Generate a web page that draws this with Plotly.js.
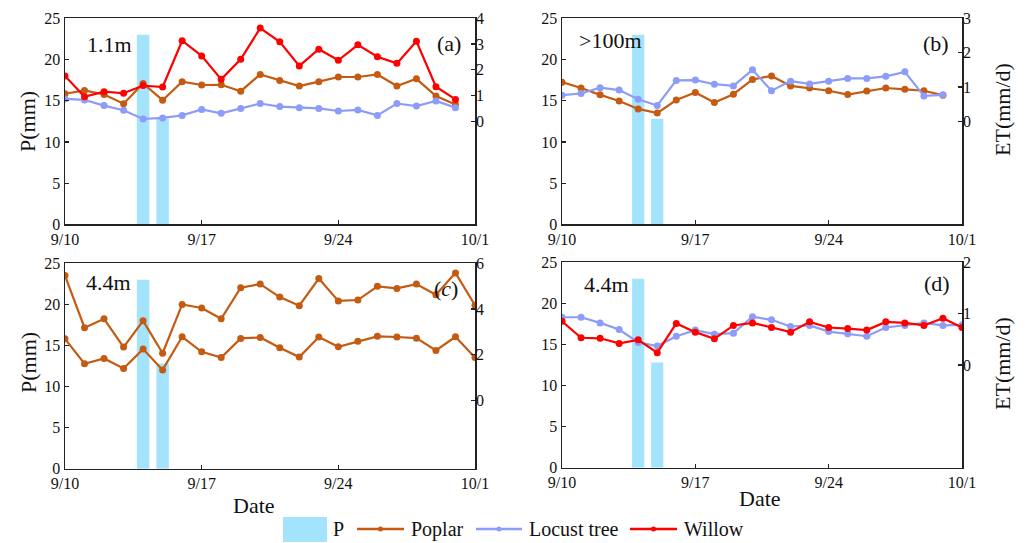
<!DOCTYPE html>
<html>
<head>
<meta charset="utf-8">
<script src="https://cdn.plot.ly/plotly-3.0.1.min.js"></script>
<style>html,body{margin:0;padding:0;background:#fff;}#chart{width:1034px;height:543px;}</style>
</head>
<body>
<div id="chart"></div>
<script>
// ---- data ----
const dates = ['2021-09-10','2021-09-11','2021-09-12','2021-09-13','2021-09-14','2021-09-15','2021-09-16',
  '2021-09-17','2021-09-18','2021-09-19','2021-09-20','2021-09-21','2021-09-22','2021-09-23','2021-09-24',
  '2021-09-25','2021-09-26','2021-09-27','2021-09-28','2021-09-29','2021-09-30','2021-10-01'];
const pDates = ['2021-09-14','2021-09-15'];
const pValues = [23.0, 12.8];

const aWillow = [1.76,0.95,1.15,1.09,1.39,1.33,3.13,2.54,1.63,2.41,3.62,3.09,2.15,2.80,2.37,2.97,2.51,2.25,3.11,1.34,0.85];
const aPoplar = [1.07,1.20,1.04,0.68,1.47,0.82,1.54,1.41,1.42,1.17,1.82,1.58,1.37,1.54,1.72,1.72,1.82,1.37,1.65,0.98,0.65];
const aLocust = [0.87,0.83,0.61,0.43,0.09,0.13,0.23,0.46,0.31,0.50,0.69,0.57,0.53,0.50,0.40,0.44,0.23,0.69,0.59,0.79,0.53];

const bPoplar = [1.14,0.97,0.77,0.59,0.36,0.24,0.62,0.84,0.55,0.79,1.22,1.32,1.03,0.97,0.89,0.78,0.88,0.97,0.93,0.89,0.76];
const bLocust = [0.76,0.81,0.98,0.91,0.64,0.46,1.19,1.20,1.08,1.03,1.50,0.89,1.17,1.09,1.17,1.25,1.25,1.31,1.44,0.74,0.77];

const cPoplarHigh = [5.46,3.18,3.57,2.33,3.48,2.06,4.20,4.04,3.57,4.93,5.09,4.52,4.14,5.33,4.35,4.39,4.99,4.90,5.09,4.62,5.58,4.16];
const cPoplarLow  = [2.69,1.60,1.83,1.39,2.24,1.33,2.78,2.12,1.87,2.71,2.75,2.30,1.89,2.77,2.34,2.58,2.80,2.77,2.72,2.18,2.78,1.87];

const dLocust = [0.93,0.93,0.82,0.69,0.44,0.37,0.56,0.68,0.60,0.62,0.94,0.88,0.75,0.77,0.65,0.61,0.56,0.73,0.77,0.82,0.77,0.78];
const dWillow = [0.85,0.53,0.52,0.42,0.49,0.24,0.81,0.64,0.51,0.77,0.82,0.73,0.64,0.84,0.73,0.71,0.68,0.84,0.82,0.77,0.91,0.73];

const xTickVals = ['2021-09-10','2021-09-17','2021-09-24','2021-10-01'];
const xTickText = ['9/10','9/17','9/24','10/1'];
const panelLabels = ['(a)','(b)','(<i>c</i>)','(d)'];
const siteLabels = ['1.1m','>100m','4.4m','4.4m'];
const legendNames = ['P','Poplar','Locust tree','Willow'];

// ---- styles ----
const C = {P:'#a3e4fc', poplar:'#c55a11', locust:'#8c9cf8', willow:'#ff0000'};
const FONT = '"Liberation Serif","Times New Roman",serif';
const W = 1034, H = 543;

function line(x, y, color, xa, ya, name) {
  return {type:'scatter', mode:'lines+markers', x:x, y:y, xaxis:xa, yaxis:ya, name:name, showlegend:false,
    line:{color:color, width:2.2}, marker:{color:color, size:7}};
}
function bars(xa, ya) {
  return {type:'bar', x:pDates, y:pValues, xaxis:xa, yaxis:ya, name:'P', showlegend:false,
    marker:{color:C.P, line:{width:0}}, width:0.64*86400000};
}

const traces = [
  bars('x','y'),
  line(dates.slice(0,21), aPoplar, C.poplar, 'x','y2','Poplar'),
  line(dates.slice(0,21), aLocust, C.locust, 'x','y2','Locust tree'),
  line(dates.slice(0,21), aWillow, C.willow, 'x','y2','Willow'),
  bars('x2','y3'),
  line(dates.slice(0,21), bPoplar, C.poplar, 'x2','y4','Poplar'),
  line(dates.slice(0,21), bLocust, C.locust, 'x2','y4','Locust tree'),
  bars('x3','y5'),
  line(dates, cPoplarHigh, C.poplar, 'x3','y6','Poplar'),
  line(dates, cPoplarLow, C.poplar, 'x3','y6','Poplar'),
  bars('x4','y7'),
  line(dates, dLocust, C.locust, 'x4','y8','Locust tree'),
  line(dates, dWillow, C.willow, 'x4','y8','Willow')
];

// panel pixel boxes [left, right, top, bottom]
const boxes = [[65,475,18.3,224.3],[562,962,18.3,224.3],[65,475,263.3,468.7],[562,962,262.3,467.7]];
const rightRanges = [[-4,4],[-3,3],[-3,6],[-2,2]];
const rightTicks = [[0,1,2,3,4],[0,1,2,3],[0,2,4,6],[0,1,2]];

const layout = {
  width:W, height:H, margin:{l:0,r:0,t:0,b:0}, showlegend:false,
  paper_bgcolor:'#fff', plot_bgcolor:'#fff', barmode:'overlay',
  font:{family:FONT, size:16, color:'#111'},
  annotations:[], shapes:[]
};

boxes.forEach((b,i) => {
  const n = i+1;
  const xk = n===1 ? 'xaxis' : 'xaxis'+n;
  const yl = 2*i+1, yr = 2*i+2;
  const ylk = yl===1 ? 'yaxis' : 'yaxis'+yl;
  const yrk = 'yaxis'+yr;
  const xName = n===1 ? 'x' : 'x'+n;
  const ylName = yl===1 ? 'y' : 'y'+yl;
  layout[xk] = {domain:[b[0]/W, b[1]/W], anchor:ylName, type:'date',
    range:['2021-09-10','2021-10-01'], tickvals:xTickVals, ticktext:xTickText,
    ticks:'inside', ticklen:4, tickwidth:1.2, tickcolor:'#222',
    showline:true, mirror:true, linecolor:'#222', linewidth:1.5, showgrid:false, zeroline:false,
    tickfont:{family:FONT, size:16, color:'#111'}, fixedrange:true};
  layout[ylk] = {domain:[1-b[3]/H, 1-b[2]/H], anchor:xName, range:[0,25], tickvals:[0,5,10,15,20,25],
    ticks:'inside', ticklen:4, tickwidth:1.2, tickcolor:'#222',
    showline:true, mirror:true, linecolor:'#222', linewidth:1.5, showgrid:false, zeroline:false,
    tickfont:{family:FONT, size:16, color:'#111'}, fixedrange:true};
  layout[yrk] = {overlaying:ylName, side:'right', anchor:xName, range:rightRanges[i], tickvals:rightTicks[i],
    ticks:'inside', ticklen:4, tickwidth:1.2, tickcolor:'#222',
    showline:false, showgrid:false, zeroline:false,
    tickfont:{family:FONT, size:16, color:'#111'}, fixedrange:true};
});

function ann(text, x, y, xanchor, yanchor, size, angle) {
  layout.annotations.push({text:text, x:x/W, y:1-y/H, xref:'paper', yref:'paper', xanchor:xanchor||'center',
    yanchor:yanchor||'middle', showarrow:false, textangle:angle||0, font:{family:FONT, size:size, color:'#111'}});
}
// site and panel labels
ann(siteLabels[0], 85, 44, 'left', 'middle', 22);
ann(panelLabels[0], 463, 43, 'right', 'middle', 22);
ann(siteLabels[1], 577, 40, 'left', 'middle', 22);
ann(panelLabels[1], 951, 43, 'right', 'middle', 22);
ann(siteLabels[2], 84, 282, 'left', 'middle', 22);
ann(panelLabels[2], 460, 288, 'right', 'middle', 22);
ann(siteLabels[3], 582, 284, 'left', 'middle', 22);
ann(panelLabels[3], 952, 283, 'right', 'middle', 22);
// axis titles
ann('P(mm)', 28, 122, 'center', 'middle', 22, -90);
ann('P(mm)', 28, 363, 'center', 'middle', 22, -90);
ann('ET(mm/d)', 1002, 110, 'center', 'middle', 22, -90);
ann('ET(mm/d)', 1002, 364, 'center', 'middle', 22, -90);
ann('Date', 254, 505, 'center', 'middle', 22);
ann('Date', 760, 498, 'center', 'middle', 22);

// custom legend
const LY = 529;
layout.shapes.push({type:'rect', xref:'paper', yref:'paper', x0:283/W, x1:327/W, y0:1-542/H, y1:1-517/H,
  fillcolor:C.P, line:{width:0}});
ann(legendNames[0], 331, LY, 'left', 'middle', 20);
const legLines = [[357,404,C.poplar,legendNames[1]],[476,522,C.locust,legendNames[2]],[630,677,C.willow,legendNames[3]]];
legLines.forEach(l => {
  layout.shapes.push({type:'line', xref:'paper', yref:'paper', x0:l[0]/W, x1:l[1]/W, y0:1-LY/H, y1:1-LY/H,
    line:{color:l[2], width:2.5}});
  const cx = (l[0]+l[1])/2;
  layout.shapes.push({type:'circle', xref:'paper', yref:'paper', x0:(cx-2.5)/W, x1:(cx+2.5)/W,
    y0:1-(LY+2.5)/H, y1:1-(LY-2.5)/H, fillcolor:l[2], line:{width:0}});
  ann(l[3], l[1]+5, LY, 'left', 'middle', 20);
});

Plotly.newPlot('chart', traces, layout, {displayModeBar:false, staticPlot:true});
</script>
</body>
</html>
